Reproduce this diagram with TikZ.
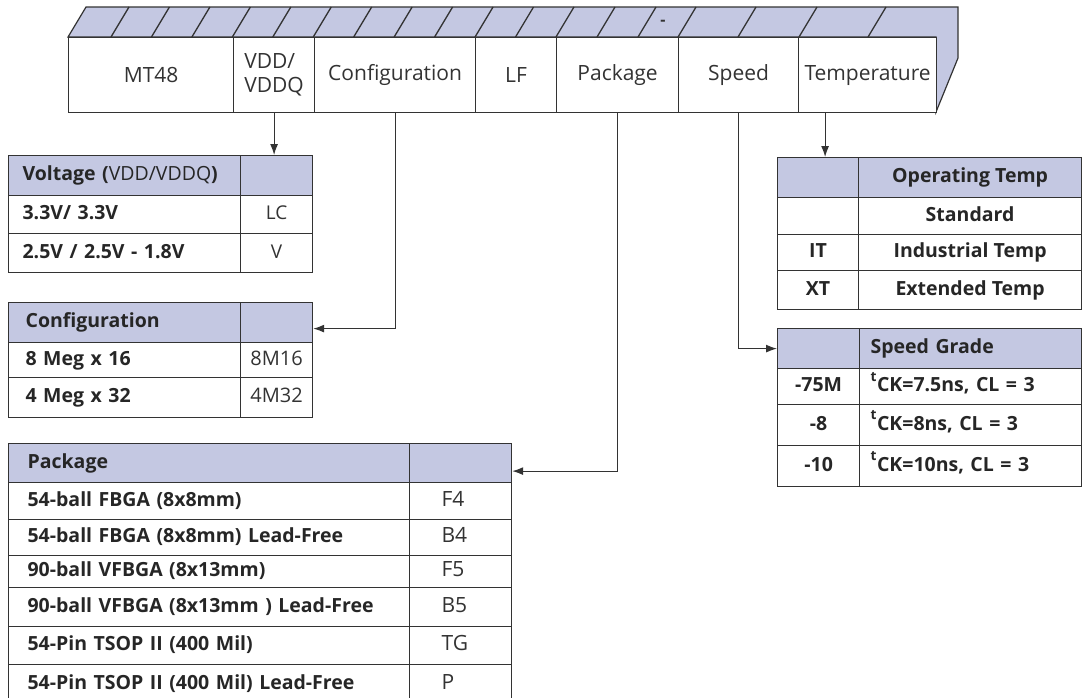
\documentclass[tikz,border=0pt]{standalone}
\usepackage{fontspec}
\setmainfont{Open Sans}
\usetikzlibrary{arrows.meta}
\definecolor{band}{RGB}{196,200,226}
\definecolor{ink}{RGB}{51,51,51}
\newcommand\boxfont{\fontsize{21}{24}\selectfont}
\newcommand\tabfont{\bfseries\fontsize{19.5}{22}\selectfont}
\newcommand\codefont{\mdseries\fontsize{20}{23}\selectfont}
\tikzset{
  field/.style={draw=ink, fill=white, line width=1.2pt, anchor=north west,
    minimum height=75pt, inner sep=0pt, font=\boxfont, text=ink},
  cell/.style={draw=ink, line width=1.2pt, anchor=north west, inner sep=0pt,
    text height=14pt, text depth=4pt, font=\tabfont, text=black!85},
  head/.style={cell, fill=band},
  code/.style={font=\codefont, text=ink},
  arr/.style={draw=ink, line width=1.2pt, -{Latex[length=11pt,width=8pt]}},
}
\begin{document}
\begin{tikzpicture}[x=1pt, y=-1pt]
\useasboundingbox (0,0) rectangle (1082,697);

% part number banner
\draw[fill=band, draw=ink, line width=1.2pt] (68,37) -- (86,7) -- (958,7) -- (958,58) -- (936,112) -- (936,37) -- cycle;
\foreach \x in {0,...,11}
  \draw[ink, line width=1.3pt] (111+40.45*\x,37) -- (129+40.45*\x,7);
\foreach \x in {597,638,678,738,799,868}
  \draw[ink, line width=1.3pt] (\x,37) -- (\x+18,7);
\node[font=\bfseries\fontsize{16}{16}\selectfont, text=ink] (dash) at (663,23) {-};

\node[field, minimum width=165pt] (mt) at (68,37) {MT48};
\node[field, minimum width=81pt, align=left] (vdd) at (233,37) {VDD/\\VDDQ};
\node[field, minimum width=161pt] (cfg) at (314,37) {Configuration};
\node[field, minimum width=81pt] (lf) at (475,37) {LF};
\node[field, minimum width=122pt] (pkg) at (556,37) {Package};
\node[field, minimum width=120pt] (spd) at (678,37) {Speed};
\node[field, minimum width=138pt] (tmp) at (798,37) {Temperature};

% voltage
\node[head, minimum width=232pt, minimum height=40pt, text width=204pt, inner xsep=14pt, align=left] (vhead) at (8,155) {Voltage ({\mdseries VDD/VDDQ})};
\node[head, minimum width=72pt, minimum height=40pt] (vcode) at (240,155) {};
\node[cell, minimum width=232pt, minimum height=38pt, text width=204pt, inner xsep=14pt, align=left] (v1) at (8,195) {3.3V/ 3.3V};
\node[cell, code, minimum width=72pt, minimum height=38pt, font=\mdseries\fontsize{19}{22}\selectfont] (v1c) at (240,195) {LC};
\node[cell, minimum width=232pt, minimum height=39pt, text width=204pt, inner xsep=14pt, align=left] (v2) at (8,233) {2.5V / 2.5V - 1.8V};
\node[cell, code, minimum width=72pt, minimum height=39pt, font=\mdseries\fontsize{19}{22}\selectfont] (v2c) at (240,233) {V};

% configuration
\node[head, minimum width=232pt, minimum height=40pt, text width=198pt, inner xsep=17pt, align=left] (chead) at (8,302) {Configuration};
\node[head, minimum width=72pt, minimum height=40pt] (ccode) at (240,302) {};
\node[cell, minimum width=232pt, minimum height=35pt, text width=198pt, inner xsep=17pt, align=left] (c1) at (8,342) {8 Meg x 16};
\node[cell, code, minimum width=72pt, minimum height=35pt] (c1c) at (240,342) {8M16};
\node[cell, minimum width=232pt, minimum height=40pt, text width=198pt, inner xsep=17pt, align=left] (c2) at (8,377) {4 Meg x 32};
\node[cell, code, minimum width=72pt, minimum height=40pt] (c2c) at (240,377) {4M32};

% package
\node[head, minimum width=401pt, minimum height=39pt, text width=363pt, inner xsep=19pt, align=left] (phead) at (8,443) {Package};
\node[head, minimum width=102pt, minimum height=39pt] (pcode) at (409,443) {};
\node[cell, minimum width=401pt, minimum height=37pt, text width=363pt, inner xsep=19pt, align=left] (p1) at (8,482) {54-ball FBGA (8x8mm)};
\node[cell, code, minimum width=102pt, minimum height=37pt, text width=38pt, inner xsep=32pt, align=left, font=\mdseries\fontsize{21}{24}\selectfont] (p1c) at (409,482) {F4};
\node[cell, minimum width=401pt, minimum height=36pt, text width=363pt, inner xsep=19pt, align=left] (p2) at (8,519) {54-ball FBGA (8x8mm) Lead-Free};
\node[cell, code, minimum width=102pt, minimum height=36pt, text width=38pt, inner xsep=32pt, align=left, font=\mdseries\fontsize{21}{24}\selectfont] (p2c) at (409,519) {B4};
\node[cell, minimum width=401pt, minimum height=32pt, text width=363pt, inner xsep=19pt, align=left] (p3) at (8,555) {90-ball VFBGA (8x13mm)};
\node[cell, code, minimum width=102pt, minimum height=32pt, text width=38pt, inner xsep=32pt, align=left, font=\mdseries\fontsize{21}{24}\selectfont] (p3c) at (409,555) {F5};
\node[cell, minimum width=401pt, minimum height=39pt, text width=363pt, inner xsep=19pt, align=left] (p4) at (8,587) {90-ball VFBGA (8x13mm ) Lead-Free};
\node[cell, code, minimum width=102pt, minimum height=39pt, text width=38pt, inner xsep=32pt, align=left, font=\mdseries\fontsize{21}{24}\selectfont] (p4c) at (409,587) {B5};
\node[cell, minimum width=401pt, minimum height=38pt, text width=363pt, inner xsep=19pt, align=left] (p5) at (8,626) {54-Pin TSOP II (400 Mil)};
\node[cell, code, minimum width=102pt, minimum height=38pt, text width=38pt, inner xsep=32pt, align=left, font=\mdseries\fontsize{21}{24}\selectfont] (p5c) at (409,626) {TG};
\node[cell, minimum width=401pt, minimum height=40pt, text width=363pt, inner xsep=19pt, align=left] (p6) at (8,664) {54-Pin TSOP II (400 Mil) Lead-Free};
\node[cell, code, minimum width=102pt, minimum height=40pt, text width=38pt, inner xsep=32pt, align=left, font=\mdseries\fontsize{21}{24}\selectfont] (p6c) at (409,664) {P};

% temperature
\node[head, minimum width=81pt, minimum height=40pt] (tcode) at (777,157) {};
\node[head, minimum width=223pt, minimum height=40pt] (thead) at (858,157) {Operating Temp};
\node[cell, minimum width=81pt, minimum height=37pt] (t1c) at (777,197) {};
\node[cell, minimum width=223pt, minimum height=37pt] (t1) at (858,197) {Standard};
\node[cell, minimum width=81pt, minimum height=36pt] (t2c) at (777,234) {IT};
\node[cell, minimum width=223pt, minimum height=36pt] (t2) at (858,234) {Industrial Temp};
\node[cell, minimum width=81pt, minimum height=39pt] (t3c) at (777,270) {XT};
\node[cell, minimum width=223pt, minimum height=39pt] (t3) at (858,270) {Extended Temp};

% speed
\node[head, minimum width=82pt, minimum height=40pt] (scode) at (777,328) {};
\node[head, minimum width=222pt, minimum height=40pt, text width=200pt, inner xsep=11pt, align=left] (shead) at (859,328) {Speed Grade};
\node[cell, minimum width=82pt, minimum height=36pt] (s1c) at (777,368) {-75M};
\node[cell, minimum width=222pt, minimum height=36pt, text width=200pt, inner xsep=11pt, align=left] (s1) at (859,368) {\raisebox{3pt}{\textsuperscript{t}}CK=7.5ns, CL = 3};
\node[cell, minimum width=82pt, minimum height=41pt] (s2c) at (777,404) {-8};
\node[cell, minimum width=222pt, minimum height=41pt, text width=200pt, inner xsep=11pt, align=left] (s2) at (859,404) {\raisebox{3pt}{\textsuperscript{t}}CK=8ns, CL = 3};
\node[cell, minimum width=82pt, minimum height=41pt] (s3c) at (777,445) {-10};
\node[cell, minimum width=222pt, minimum height=41pt, text width=200pt, inner xsep=11pt, align=left] (s3) at (859,445) {\raisebox{3pt}{\textsuperscript{t}}CK=10ns, CL = 3};

% connectors
\draw[arr] (vdd.south) -- (vdd.south |- vcode.north);
\draw[arr] (cfg.south) |- ([yshift=-6pt]ccode.east);
\draw[arr] (pkg.south) |- ([yshift=-8pt]pcode.east);
\draw[arr] (spd.south) |- (scode.west);
\draw[arr] ([xshift=7pt]tcode.north |- tmp.south) -- ([xshift=7pt]tcode.north);
\end{tikzpicture}
\end{document}
